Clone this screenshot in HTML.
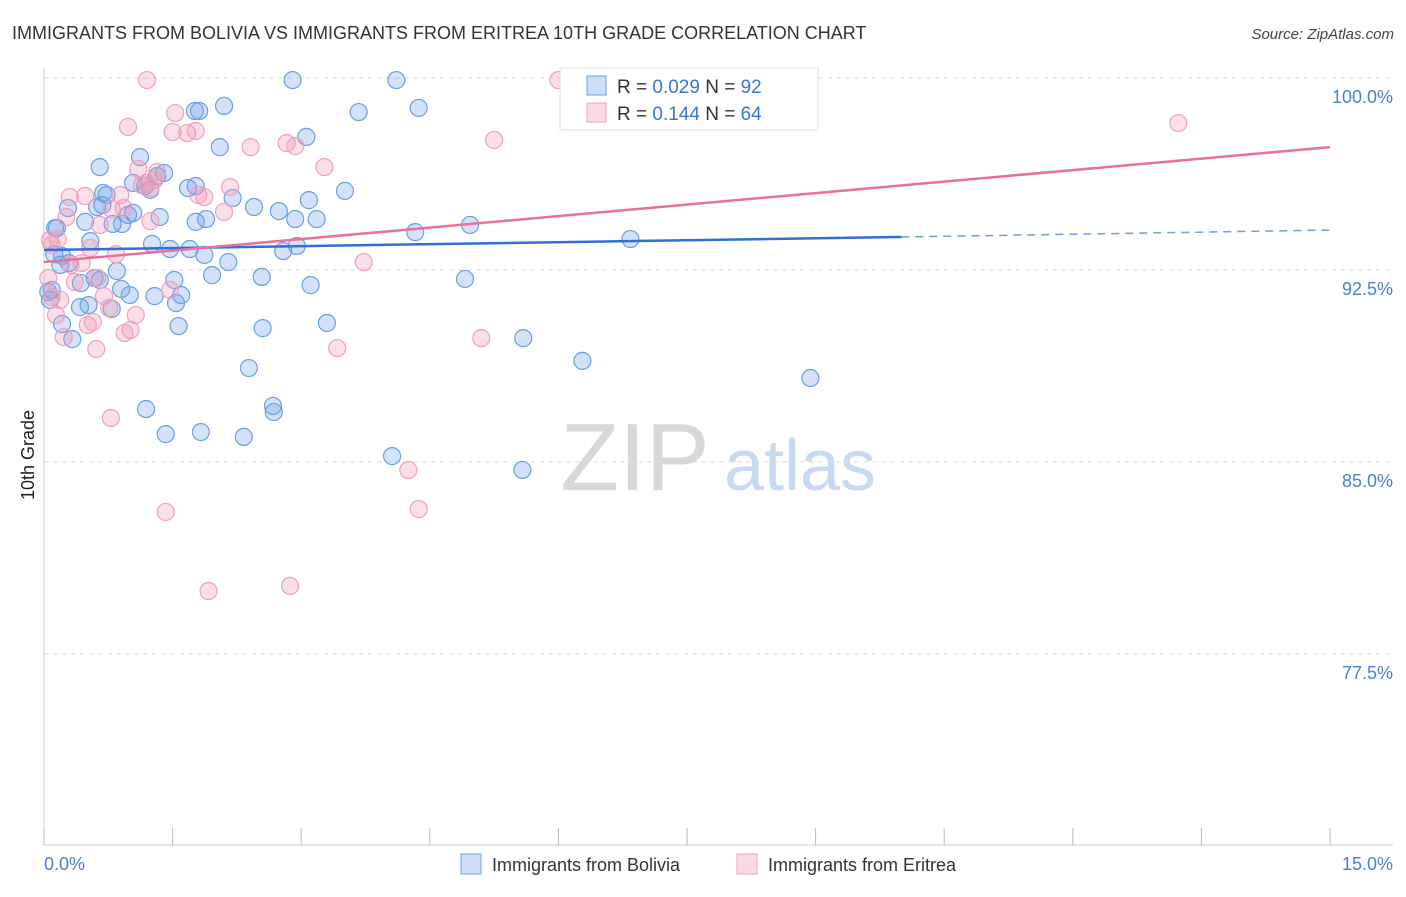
<!DOCTYPE html>
<html><head><meta charset="utf-8"><style>
body{margin:0;background:#fff;font-family:"Liberation Sans",sans-serif;}
svg text{font-family:"Liberation Sans",sans-serif;}
</style></head><body>
<svg id="chart" width="1406" height="892" xmlns="http://www.w3.org/2000/svg">
<text x="12" y="39" font-size="18" fill="#333">IMMIGRANTS FROM BOLIVIA VS IMMIGRANTS FROM ERITREA 10TH GRADE CORRELATION CHART</text>
<text x="1394" y="39" font-size="15" fill="#444" font-style="italic" text-anchor="end">Source: ZipAtlas.com</text>
<text transform="translate(34,455) rotate(-90)" font-size="18" fill="#222" text-anchor="middle">10th Grade</text>
<g>
<text x="635" y="490" font-size="96" fill="#d8d8d8" text-anchor="middle" font-family="Liberation Serif">ZIP</text>
<text x="800" y="490" font-size="72" fill="#c8daf2" text-anchor="middle">atlas</text>
</g>
<g id="grid"></g><g id="axes"></g><g id="marks"></g><g id="lines"></g>
<g>
<rect x="560" y="68" width="258" height="62" fill="#fff" stroke="#ddd"/>
<rect x="587" y="76" width="19" height="19" fill="rgba(110,160,235,0.35)" stroke="#6a9fe0"/>
<text x="617" y="93" font-size="19" fill="#333">R = <tspan fill="#3a74d0">0.029</tspan>   N = <tspan fill="#3a74d0">92</tspan></text>
<rect x="587" y="103" width="19" height="19" fill="rgba(240,150,180,0.35)" stroke="#f0a0bc"/>
<text x="617" y="120" font-size="19" fill="#333">R =  <tspan fill="#3a74d0">0.144</tspan>   N = <tspan fill="#3a74d0">64</tspan></text>
</g>
<g>
<rect x="461" y="854" width="20" height="20" fill="rgba(110,160,235,0.35)" stroke="#6a9fe0"/>
<text x="492" y="871" font-size="18" fill="#333">Immigrants from Bolivia</text>
<rect x="737" y="854" width="20" height="20" fill="rgba(240,150,180,0.35)" stroke="#f0a0bc"/>
<text x="768" y="871" font-size="18" fill="#333">Immigrants from Eritrea</text>
</g>
</svg>
<script>
const xTicksVals=[0,1.5,3,4.5,6,7.5,9,10.5,12,13.5,15];
const yTickVals=[100,92.5,85,77.5];
const yTickLabels=["100.0%","92.5%","85.0%","77.5%"];
const xEndLabels=["0.0%","15.0%"];
const boliviaX=[2.90,4.11,2.10,1.76,1.81,3.67,4.37,3.06,2.05,1.12,0.65,1.40,1.04,1.32,1.77,0.69,0.73,1.24,3.51,2.20,3.09,2.45,2.74,0.62,0.28,1.04,1.35,1.89,2.93,3.18,0.13,0.48,0.80,0.91,4.97,4.33,6.84,0.54,1.26,1.47,1.70,2.95,0.12,0.21,1.87,2.79,0.29,2.15,0.85,1.52,1.96,2.54,4.91,0.09,0.43,0.59,0.90,1.00,1.29,1.60,3.11,1.54,0.42,0.52,0.79,0.21,1.57,2.55,3.30,0.33,5.59,6.28,2.39,8.94,2.67,2.68,1.19,1.42,1.83,2.33,4.06,5.58,0.05,0.15,0.07,0.68,0.98,1.68,0.19,1.18,1.77,0.65];
const boliviaY=[99.92,99.92,98.91,98.71,98.71,98.67,98.83,97.70,97.30,96.91,96.52,96.29,95.90,96.17,95.78,95.51,95.43,95.63,95.59,95.31,95.23,94.96,94.80,94.96,94.92,94.73,94.57,94.49,94.49,94.49,94.14,94.38,94.30,94.30,94.26,93.98,93.71,93.63,93.52,93.32,93.32,93.44,93.12,93.05,93.09,93.24,92.77,92.81,92.46,92.11,92.30,92.23,92.15,91.72,91.99,92.19,91.76,91.52,91.48,91.52,91.91,91.21,91.05,91.13,90.98,90.39,90.31,90.23,90.43,89.80,89.84,88.95,88.67,88.28,87.19,86.95,87.07,86.09,86.17,85.98,85.23,84.69,91.64,94.14,91.33,95.04,94.65,95.70,92.70,95.78,94.38,92.11];
const eritreaX=[1.20,6.00,1.53,13.23,0.98,1.50,1.67,1.77,5.25,2.41,2.83,2.93,3.27,1.10,1.32,1.19,1.24,2.17,0.30,0.48,0.89,1.87,0.79,0.93,2.10,1.24,0.26,0.65,0.16,0.07,0.54,0.84,3.73,0.44,0.31,0.62,0.36,1.47,0.70,0.09,0.14,1.07,0.76,0.51,0.57,1.01,0.94,0.23,0.61,3.42,5.10,0.78,4.25,1.42,4.37,1.92,2.87,0.19,0.05,1.14,0.09,1.29,1.80,6.43];
const eritreaY=[99.92,99.92,98.63,98.24,98.09,97.89,97.85,97.93,97.58,97.30,97.46,97.34,96.52,96.45,96.33,95.90,95.70,95.74,95.35,95.39,95.43,95.35,94.88,94.92,94.77,94.41,94.57,94.26,93.71,93.67,93.36,93.12,92.81,92.77,92.70,92.19,92.03,91.72,91.48,91.45,90.74,90.74,91.02,90.35,90.47,90.16,90.04,89.88,89.41,89.45,89.84,86.72,84.69,83.05,83.16,79.96,80.16,91.33,92.19,95.82,93.48,96.02,95.43,98.63];
const boliviaTrend=[[0,93.28],[10,93.79],[15,94.06]];
const eritreaTrend=[[0,92.81],[15,97.30]];
const NS="http://www.w3.org/2000/svg";
const X0=44,X1=1330,Y0=78,PX=25.6;
function sx(v){return X0+v/15*(X1-X0);}
function sy(v){return Y0+(100-v)*PX;}
function mk(t,a,p){const e=document.createElementNS(NS,t);for(const k in a)e.setAttribute(k,a[k]);p.appendChild(e);return e;}
const grid=document.getElementById('grid'),axes=document.getElementById('axes'),marks=document.getElementById('marks'),lines=document.getElementById('lines');
yTickVals.forEach((v,i)=>{
 const l=mk('line',{x1:X0,x2:1393,y1:sy(v),y2:sy(v),stroke:'#ddd','stroke-dasharray':'5,4'},grid);
 
 
 const t=mk('text',{x:1393,y:sy(v)+25,'font-size':18,fill:'#4a7fd4','text-anchor':'end'},axes);
 t.textContent=yTickLabels[i];
 
 
});
const al=mk('line',{x1:X0,x2:X0,y1:68,y2:845,stroke:'#ccc'},axes);


const bl=mk('line',{x1:X0,x2:1393,y1:845,y2:845,stroke:'#ccc'},axes);


xTicksVals.forEach(v=>{
 const tk=mk('line',{x1:sx(v),x2:sx(v),y1:828,y2:845,stroke:'#bbb'},axes);
 
 
});
const t0=mk('text',{x:X0,y:870,'font-size':18,fill:'#4a7fd4'},axes);t0.textContent=xEndLabels[0];


const t1=mk('text',{x:1393,y:870,'font-size':18,fill:'#4a7fd4','text-anchor':'end'},axes);t1.textContent=xEndLabels[1];


boliviaX.forEach((x,i)=>{
 const c=mk('circle',{cx:sx(x),cy:sy(boliviaY[i]),r:8.5,fill:'rgba(110,160,235,0.3)',stroke:'#6a9fe0','stroke-width':1.2},marks);
 
 
});
eritreaX.forEach((x,i)=>{
 const c=mk('circle',{cx:sx(x),cy:sy(eritreaY[i]),r:8.5,fill:'rgba(240,150,180,0.3)',stroke:'#f0a0bc','stroke-width':1.2},marks);
 
 
});
const b1=mk('line',{x1:sx(boliviaTrend[0][0]),y1:sy(boliviaTrend[0][1]),x2:sx(boliviaTrend[1][0]),y2:sy(boliviaTrend[1][1]),stroke:'#2f6fd6','stroke-width':2.5},lines);


const b2=mk('line',{x1:sx(boliviaTrend[1][0]),y1:sy(boliviaTrend[1][1]),x2:sx(boliviaTrend[2][0]),y2:sy(boliviaTrend[2][1]),stroke:'#6a9fe0','stroke-width':1.5,'stroke-dasharray':'8,6'},lines);


const p1=mk('line',{x1:sx(eritreaTrend[0][0]),y1:sy(eritreaTrend[0][1]),x2:sx(eritreaTrend[1][0]),y2:sy(eritreaTrend[1][1]),stroke:'#e8709a','stroke-width':2.5},lines);


</script>
</body></html>
